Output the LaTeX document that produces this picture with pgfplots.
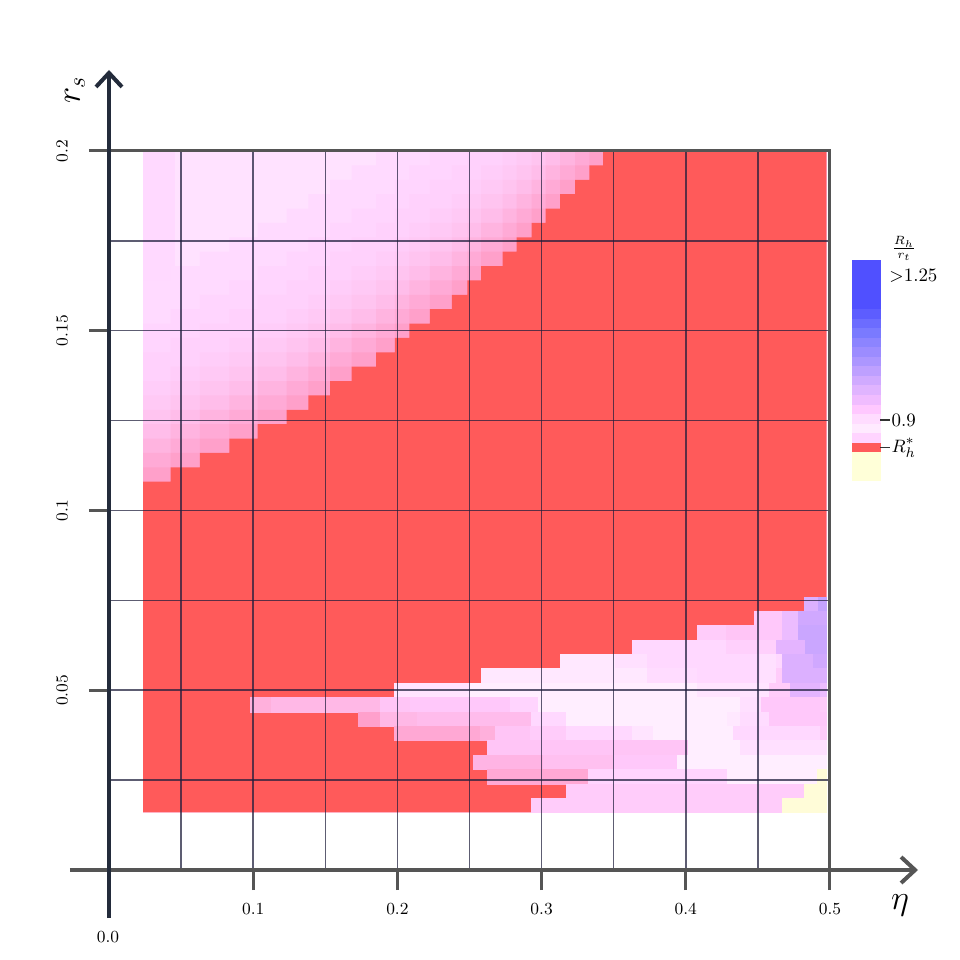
\documentclass[border=0pt]{standalone}
\usepackage{pgfplots}
\pgfplotsset{compat=1.18}
\usepackage{pgfplotstable}
\usetikzlibrary{arrows.meta}

\definecolor{rd}{HTML}{FF5A5A}
\definecolor{navy}{HTML}{232B3B}
\definecolor{axgray}{HTML}{555555}
\definecolor{gridc}{HTML}{1E1E3C}
% upper region shades
\definecolor{u0}{HTML}{FFE2FF}
\definecolor{us}{HTML}{FFD9FF}
\definecolor{ma}{HTML}{FFDAFF}
\definecolor{mb}{HTML}{FFD5FE}
\definecolor{mc}{HTML}{FFD1FC}
\definecolor{md}{HTML}{FFCDF9}
\definecolor{me}{HTML}{FFC9F5}
\definecolor{mf}{HTML}{FFC4F0}
\definecolor{mg}{HTML}{FFBDEA}
\definecolor{mh}{HTML}{FFB4E0}
\definecolor{mi}{HTML}{FFAAD6}
\definecolor{mj}{HTML}{FFA0CA}
% lower region shades
\definecolor{la}{HTML}{FFEEFF}
\definecolor{lb}{HTML}{FFE8FF}
\definecolor{lc}{HTML}{FFE4FF}
\definecolor{ld}{HTML}{FFE0FF}
\definecolor{le}{HTML}{FFDCFF}
\definecolor{lf}{HTML}{FFD8FF}
\definecolor{lg}{HTML}{FFD4FE}
\definecolor{lh}{HTML}{FFD0FC}
\definecolor{li}{HTML}{FFCCFA}
\definecolor{lj}{HTML}{FFC8FA}
\definecolor{lk}{HTML}{FFC5F6}
\definecolor{ll}{HTML}{FFC0F0}
\definecolor{lm}{HTML}{FFBCEC}
\definecolor{ln}{HTML}{FFB8E6}
\definecolor{lo}{HTML}{FFB4E4}
\definecolor{lp}{HTML}{FFB0DC}
\definecolor{lq}{HTML}{FFA8D4}
\definecolor{lr}{HTML}{FFA0CC}
\definecolor{va}{HTML}{ECBCFF}
\definecolor{vb}{HTML}{E4B4FF}
\definecolor{vc}{HTML}{DCB0FF}
\definecolor{vd}{HTML}{D0A8FF}
\definecolor{ve}{HTML}{CAA6FF}
\definecolor{vf}{HTML}{C4A2FF}
\definecolor{yl}{HTML}{FFFCD8}
% colour bar
\definecolor{ca}{HTML}{FFFFD8}
\definecolor{cb}{HTML}{FFD4FF}
\definecolor{cc}{HTML}{FFEAFF}
\definecolor{cd}{HTML}{FFDCFF}
\definecolor{ce}{HTML}{FFC8FF}
\definecolor{cf}{HTML}{F0BCFF}
\definecolor{cg}{HTML}{E0B4FF}
\definecolor{ch}{HTML}{D0AAFF}
\definecolor{ci}{HTML}{BEA0FF}
\definecolor{cj}{HTML}{AC96FF}
\definecolor{ck}{HTML}{9C8CFF}
\definecolor{cl}{HTML}{8C84FF}
\definecolor{cm}{HTML}{7A7AFF}
\definecolor{cn}{HTML}{6C6CFF}
\definecolor{co}{HTML}{5D5DFF}
\definecolor{cp}{HTML}{5050FF}

% one rectangle of the map: x1 x2 y1 y2 colour
\newcommand{\cell}[5]{\addplot[draw=#5, line width=0.2bp, fill=#5] coordinates {(#1,#3) (#2,#3) (#2,#4) (#1,#4)} -- cycle;}

% edge of the red zone in the upper part (eta, r_s)
\pgfplotstableread{
eta rs
0.0236 0.016
0.0236 0.108
0.0428 0.108
0.0428 0.112
0.0631 0.112
0.0631 0.116
0.0834 0.116
0.0834 0.120
0.1031 0.120
0.1031 0.124
0.1232 0.124
0.1232 0.128
0.1382 0.128
0.1382 0.132
0.1533 0.132
0.1533 0.136
0.1683 0.136
0.1683 0.140
0.1852 0.140
0.1852 0.144
0.1983 0.144
0.1983 0.148
0.2083 0.148
0.2083 0.152
0.2226 0.152
0.2226 0.156
0.2377 0.156
0.2377 0.160
0.2485 0.160
0.2485 0.164
0.2580 0.164
0.2580 0.168
0.2730 0.168
0.2730 0.172
0.2827 0.172
0.2827 0.176
0.2931 0.176
0.2931 0.180
0.3028 0.180
0.3028 0.184
0.3128 0.184
0.3128 0.188
0.3232 0.188
0.3232 0.192
0.3331 0.192
0.3331 0.196
0.3426 0.196
0.3426 0.200
0.4975 0.200
0.4975 0.016
}\stair

\begin{document}
\begin{tikzpicture}
\useasboundingbox (-54.5bp,-45bp) rectangle (425.5bp,435bp);
\begin{axis}[
    at={(0,0)}, anchor=south west,
    scale only axis,
    width=360.5bp, height=359.5bp,
    xmin=0, xmax=0.5, ymin=0, ymax=0.2,
    axis on top,
    scaled ticks=false,
    xtick={0.1,0.2,0.3,0.4,0.5}, xticklabels={0.1,0.2,0.3,0.4,0.5},
    ytick={0.05,0.1,0.15,0.2}, yticklabels={0.05,0.1,0.15,0.2},
    minor xtick={0.05,0.15,0.25,0.35,0.45},
    minor ytick={0.025,0.075,0.125,0.175},
    grid=both,
    major grid style={draw=gridc, line width=0.75bp, opacity=0.72},
    minor grid style={draw=gridc, line width=0.75bp, opacity=0.72},
    xtick pos=left, ytick pos=left,
    tick align=outside,
    major tick length=10bp, minor tick length=0pt,
    tick style={draw=axgray, line width=1.5bp},
    axis line style={draw=axgray, line width=1.5bp},
    ticklabel style={font=\fontsize{8.5}{10}\selectfont},
    yticklabel style={rotate=90, anchor=south},
    xticklabel shift=3bp, yticklabel shift=7bp,
]
% upper part: light base, then shades towards the red edge
\cell{0.0236}{0.4975}{0.016}{0.200}{u0}
\cell{0.0236}{0.0450}{0.120}{0.200}{us}
\addplot[fill=ma, draw=none] table[x=eta, y expr=\thisrow{rs}+0.056] {\stair} -- cycle;
\addplot[fill=mb, draw=none] table[x=eta, y expr=\thisrow{rs}+0.044] {\stair} -- cycle;
\addplot[fill=mc, draw=none] table[x=eta, y expr=\thisrow{rs}+0.036] {\stair} -- cycle;
\addplot[fill=md, draw=none] table[x=eta, y expr=\thisrow{rs}+0.028] {\stair} -- cycle;
\addplot[fill=me, draw=none] table[x=eta, y expr=\thisrow{rs}+0.024] {\stair} -- cycle;
\addplot[fill=mf, draw=none] table[x=eta, y expr=\thisrow{rs}+0.020] {\stair} -- cycle;
\addplot[fill=mg, draw=none] table[x=eta, y expr=\thisrow{rs}+0.016] {\stair} -- cycle;
\addplot[fill=mh, draw=none] table[x=eta, y expr=\thisrow{rs}+0.012] {\stair} -- cycle;
\addplot[fill=mi, draw=none] table[x=eta, y expr=\thisrow{rs}+0.008] {\stair} -- cycle;
\addplot[fill=mj, draw=none] table[x=eta, y expr=\thisrow{rs}+0.004] {\stair} -- cycle;
% red zone
\addplot[fill=rd, draw=none] table[x=eta, y=rs] {\stair} -- cycle;

% lower part, row by row
\cell{0.4820}{0.4917}{0.072}{0.076}{vc}
\cell{0.4917}{0.4975}{0.072}{0.076}{vf}

\cell{0.4473}{0.4672}{0.068}{0.072}{lj}
\cell{0.4672}{0.4778}{0.068}{0.072}{va}
\cell{0.4778}{0.4975}{0.068}{0.072}{vd}

\cell{0.4076}{0.4278}{0.064}{0.068}{li}
\cell{0.4278}{0.4491}{0.064}{0.068}{lk}
\cell{0.4491}{0.4672}{0.064}{0.068}{lj}
\cell{0.4672}{0.4778}{0.064}{0.068}{va}
\cell{0.4778}{0.4975}{0.064}{0.068}{ve}

\cell{0.3625}{0.4278}{0.060}{0.064}{lf}
\cell{0.4278}{0.4626}{0.060}{0.064}{lh}
\cell{0.4626}{0.4827}{0.060}{0.064}{vb}
\cell{0.4827}{0.4975}{0.060}{0.064}{ve}

\cell{0.3128}{0.3509}{0.056}{0.060}{lb}
\cell{0.3509}{0.3729}{0.056}{0.060}{ld}
\cell{0.3729}{0.4515}{0.056}{0.060}{lf}
\cell{0.4515}{0.4626}{0.056}{0.060}{ld}
\cell{0.4626}{0.4672}{0.056}{0.060}{lf}
\cell{0.4672}{0.4884}{0.056}{0.060}{vc}
\cell{0.4884}{0.4975}{0.056}{0.060}{vd}

\cell{0.2578}{0.3729}{0.052}{0.056}{lb}
\cell{0.3729}{0.4076}{0.052}{0.056}{le}
\cell{0.4076}{0.4515}{0.052}{0.056}{lf}
\cell{0.4515}{0.4626}{0.052}{0.056}{ld}
\cell{0.4626}{0.4672}{0.052}{0.056}{li}
\cell{0.4672}{0.4975}{0.052}{0.056}{vc}

\cell{0.1979}{0.2503}{0.048}{0.052}{lc}
\cell{0.2503}{0.4076}{0.048}{0.052}{la}
\cell{0.4076}{0.4579}{0.048}{0.052}{lc}
\cell{0.4579}{0.4723}{0.048}{0.052}{li}
\cell{0.4723}{0.4931}{0.048}{0.052}{vb}
\cell{0.4931}{0.4975}{0.048}{0.052}{va}

\cell{0.0978}{0.1128}{0.044}{0.048}{lp}
\cell{0.1128}{0.1879}{0.044}{0.048}{ln}
\cell{0.1879}{0.2087}{0.044}{0.048}{lk}
\cell{0.2087}{0.2781}{0.044}{0.048}{lj}
\cell{0.2781}{0.2975}{0.044}{0.048}{lg}
\cell{0.2975}{0.4376}{0.044}{0.048}{la}
\cell{0.4376}{0.4526}{0.044}{0.048}{ld}
\cell{0.4526}{0.4931}{0.044}{0.048}{lj}
\cell{0.4931}{0.4975}{0.044}{0.048}{li}

\cell{0.1729}{0.1879}{0.040}{0.044}{lr}
\cell{0.1879}{0.2134}{0.040}{0.044}{ln}
\cell{0.2134}{0.2931}{0.040}{0.044}{lm}
\cell{0.2931}{0.3174}{0.040}{0.044}{lf}
\cell{0.3174}{0.4284}{0.040}{0.044}{la}
\cell{0.4284}{0.4376}{0.040}{0.044}{lb}
\cell{0.4376}{0.4579}{0.040}{0.044}{le}
\cell{0.4579}{0.4975}{0.040}{0.044}{lj}

\cell{0.1979}{0.2573}{0.036}{0.040}{lq}
\cell{0.2573}{0.2677}{0.036}{0.040}{lp}
\cell{0.2677}{0.2920}{0.036}{0.040}{lk}
\cell{0.2920}{0.3174}{0.036}{0.040}{li}
\cell{0.3174}{0.3625}{0.036}{0.040}{lf}
\cell{0.3625}{0.3773}{0.036}{0.040}{lc}
\cell{0.3773}{0.4327}{0.036}{0.040}{la}
\cell{0.4327}{0.4931}{0.036}{0.040}{lf}
\cell{0.4931}{0.4975}{0.036}{0.040}{li}

\cell{0.2623}{0.4015}{0.032}{0.036}{lk}
\cell{0.4015}{0.4376}{0.032}{0.036}{la}
\cell{0.4376}{0.4975}{0.032}{0.036}{ld}

\cell{0.2526}{0.3010}{0.028}{0.032}{lo}
\cell{0.3010}{0.3495}{0.028}{0.032}{ll}
\cell{0.3495}{0.3937}{0.028}{0.032}{lj}
\cell{0.3937}{0.4975}{0.028}{0.032}{la}

\cell{0.2623}{0.3324}{0.024}{0.028}{lq}
\cell{0.3324}{0.4284}{0.024}{0.028}{lg}
\cell{0.4284}{0.4908}{0.024}{0.028}{la}
\cell{0.4908}{0.4975}{0.024}{0.028}{yl}

\cell{0.3174}{0.4820}{0.020}{0.024}{li}
\cell{0.4820}{0.4975}{0.020}{0.024}{yl}

\cell{0.2931}{0.4672}{0.016}{0.020}{li}
\cell{0.4672}{0.4975}{0.016}{0.020}{yl}
\end{axis}

% colour bar
\begin{axis}[
    at={(371.35bp,195bp)}, anchor=south west,
    scale only axis,
    width=14.15bp, height=109.65bp,
    xmin=0, xmax=1, ymin=0, ymax=23,
    hide axis, clip=false,
]
\cell{0}{1}{0}{3}{ca}
\cell{0}{1}{3}{4}{rd}
\cell{0}{1}{4}{5}{cb}
\cell{0}{1}{5}{6}{cc}
\cell{0}{1}{6}{7}{cd}
\cell{0}{1}{7}{8}{ce}
\cell{0}{1}{8}{9}{cf}
\cell{0}{1}{9}{10}{cg}
\cell{0}{1}{10}{11}{ch}
\cell{0}{1}{11}{12}{ci}
\cell{0}{1}{12}{13}{cj}
\cell{0}{1}{13}{14}{ck}
\cell{0}{1}{14}{15}{cl}
\cell{0}{1}{15}{16}{cm}
\cell{0}{1}{16}{17}{cn}
\cell{0}{1}{17}{18}{co}
\cell{0}{1}{18}{23}{cp}
\node[font=\footnotesize] at (axis cs:1.85,24.3) {$\frac{R_h}{r_t}$};
\node[anchor=west, inner sep=0pt, font=\fontsize{9.5}{11}\selectfont] at (axis cs:1.32,21.4) {$>$1.25};
\draw[black!80, line width=0.8bp] (axis cs:1,6.3) -- (axis cs:1.36,6.3);
\node[anchor=west, inner sep=0.5bp, font=\fontsize{9.5}{11}\selectfont] at (axis cs:1.36,6.3) {0.9};
\draw[black!80, line width=0.8bp] (axis cs:1,3.4) -- (axis cs:1.36,3.4);
\node[anchor=west, inner sep=0.5bp, font=\fontsize{9.5}{11}\selectfont] at (axis cs:1.36,3.4) {$R_h^*$};
\end{axis}

% axis arrows and labels
\draw[axgray, line width=2bp, -{Straight Barb[length=7bp, width=13bp]}] (-19.5bp,0) -- (404.5bp,0);
\draw[navy, line width=2bp, -{Straight Barb[length=7bp, width=13bp]}] (0,-24bp) -- (0,400bp);
\node[font=\fontsize{17}{20}\selectfont] at (395.5bp,-17.5bp) {$\eta$};
\node[rotate=90, font=\fontsize{17}{20}\selectfont] at (-17bp,390bp) {$r_s$};
\node[font=\fontsize{8.5}{10}\selectfont] at (-0.5bp,-33.5bp) {0.0};
\end{tikzpicture}
\end{document}
